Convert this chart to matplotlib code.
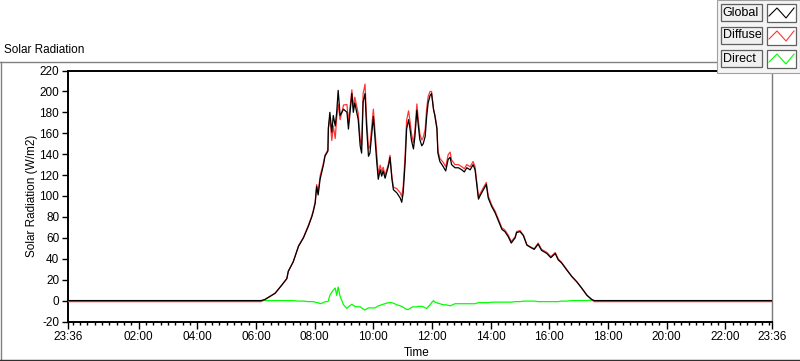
import matplotlib
matplotlib.use("Agg")
import matplotlib.pyplot as plt
import matplotlib.dates as mdates
from matplotlib.lines import Line2D
from matplotlib.patches import Rectangle
import pandas as pd

# ---------------- data ----------------
t_start = "2000-01-01 23:36"
t_end = "2000-01-02 23:36"
day_times = ["06:10", "06:18", "06:39", "06:53", "07:03", "07:06", "07:16", "07:27", "07:37", "07:47",
             "07:54", "07:57", "08:01", "08:04", "08:07", "08:11", "08:18", "08:21", "08:27", "08:28",
             "08:31", "08:35", "08:38", "08:42", "08:45", "08:48", "08:52", "08:59", "09:06", "09:09",
             "09:16", "09:19", "09:22", "09:29", "09:33", "09:36", "09:39", "09:43", "09:46", "09:50",
             "09:53", "10:00", "10:03", "10:07", "10:10", "10:14", "10:17", "10:20", "10:24", "10:27",
             "10:31", "10:34", "10:38", "10:41", "10:48", "10:55", "10:58", "11:01", "11:05", "11:08",
             "11:12", "11:15", "11:18", "11:22", "11:25", "11:29", "11:32", "11:35", "11:39", "11:42",
             "11:46", "11:49", "11:52", "11:56", "11:59", "12:03", "12:06", "12:10", "12:12", "12:16",
             "12:23", "12:28", "12:33", "12:37", "12:40", "12:47", "12:54", "13:01", "13:06", "13:11",
             "13:18", "13:24", "13:28", "13:31", "13:35", "13:38", "13:45", "13:51", "13:55", "14:02",
             "14:09", "14:16", "14:23", "14:29", "14:36", "14:42", "14:50", "14:53", "15:00", "15:07",
             "15:14", "15:21", "15:29", "15:37", "15:44", "15:55", "16:03", "16:12", "16:18", "16:25",
             "16:36", "16:46", "16:56", "17:06", "17:17", "17:27", "17:32"]

global_rad = [0, 0, 1, 7, 15, 21, 28, 37, 52, 60, 71,
              80, 85, 93, 109, 101, 116, 130, 138, 143, 165,
              180, 161, 177, 167, 180, 201, 177, 183, 180, 164,
              198, 180, 189, 173, 148, 141, 190, 198, 167, 138,
              141, 176, 157, 132, 116, 125, 119, 124, 117, 122,
              129, 137, 116, 106, 103, 98, 94, 103, 132, 164,
              173, 164, 153, 145, 157, 182, 167, 154, 148, 150,
              157, 176, 189, 196, 198, 183, 176, 164, 141, 133,
              128, 124, 135, 137, 130, 127, 127, 125, 123, 127,
              125, 130, 125, 113, 97, 100, 106, 111, 98, 90,
              84, 76, 68, 66, 61, 55, 60, 65, 66, 62,
              53, 51, 49, 54, 48, 45, 41, 45, 39, 36,
              29, 23, 18, 12, 5, 1, 0, 0]

diffuse_rad = [-1, -1, 1, 7, 15, 21, 28, 37, 52.5, 60.5, 72,
               81, 86, 94.5, 111, 103, 119, 132, 139, 144, 165,
               175, 153, 167, 155, 175, 188, 173, 187, 187.5, 170,
               201.5, 184.5, 194.5, 179, 154, 148, 198, 207, 175, 145,
               148, 183, 164, 138, 121, 129.5, 123, 127.5, 120, 124.5,
               131, 139, 118, 108.5, 107, 103, 99.5, 109.5, 139.5, 172.5,
               181.5, 171.5, 159.5, 151, 163, 188, 172.5, 159.5, 153.5, 156,
               164, 183.5, 195, 200, 200, 183, 177.5, 166, 143.5, 136,
               132, 128, 139.5, 142, 134.5, 130, 130, 128, 126, 130,
               128, 133, 128, 115.5, 99, 102, 108, 113, 100, 91.5,
               85.5, 77.5, 69.5, 67.5, 62.5, 56.5, 61, 66, 67, 62.5,
               53.5, 51.5, 49.5, 55, 49, 46, 42, 46, 40, 36.5,
               29.5, 23, 18, 12, 5, 0.5, -1, -1]

direct_rad = [0, 0, 0, 0, 0, 0, 0, 0, -0.5, -0.5, -1,
              -1, -1, -1.5, -2, -2, -3, -2, -1, -1, 0,
              5, 8, 10, 12, 5, 13, 4, -4, -7.5, -6,
              -3.5, -4.5, -5.5, -6, -6, -7, -8, -9, -8, -7,
              -7, -7, -7, -6, -5, -4.5, -4, -3.5, -3, -2.5,
              -2, -2, -2, -2.5, -4, -5, -5.5, -6.5, -7.5, -8.5,
              -8.5, -7.5, -6.5, -6, -6, -6, -5.5, -5.5, -5.5, -6,
              -7, -7.5, -6, -4, -2, 0, -1.5, -2, -2.5, -3,
              -4, -4, -4.5, -5, -4.5, -3, -3, -3, -3, -3,
              -3, -3, -3, -2.5, -2, -2, -2, -2, -2, -1.5,
              -1.5, -1.5, -1.5, -1.5, -1.5, -1.5, -1, -1, -1, -0.5,
              -0.5, -0.5, -0.5, -1, -1, -1, -1, -1, -1, -0.5,
              -0.5, 0, 0, 0, 0, 0.5, 0, 0]

y_ticks = [-20, 0, 20, 40, 60, 80, 100, 120, 140, 160, 180, 200, 220]
x_tick_labels = ["23:36", "02:00", "04:00", "06:00", "08:00", "10:00", "12:00",
                 "14:00", "16:00", "18:00", "20:00", "22:00", "23:36"]
series_names = ["Global", "Diffuse", "Direct"]
series_colors = ["#000000", "#ff3535", "#00ff00"]

# ---------------- build ----------------
times = pd.to_datetime([t_start] + ["2000-01-02 " + t for t in day_times] + [t_end])
tick_times = pd.to_datetime([t_start] + ["2000-01-02 " + t for t in x_tick_labels[1:-1]] + [t_end])

plt.rcParams['font.family'] = ['Liberation Sans', 'DejaVu Sans']

W, H = 800, 361
fig = plt.figure(figsize=(8.0, 3.61), dpi=100)
fig.patch.set_facecolor("white")

left_px, right_px, top_px, bot_px = 68.3, 772.3, 70.5, 321.5
ax = fig.add_axes([left_px / W, 1 - bot_px / H, (right_px - left_px) / W, (bot_px - top_px) / H])

ax.plot(times, direct_rad, color=series_colors[2], lw=0.9, zorder=2)
ax.plot(times, diffuse_rad, color=series_colors[1], lw=0.9, zorder=3)
ax.plot(times, global_rad, color=series_colors[0], lw=0.9, zorder=4)

ax.set_xlim(times[0], times[-1])
ax.set_ylim(-20, 220)
ax.set_yticks(y_ticks)
ax.set_yticklabels([str(v) for v in y_ticks])
ax.set_xticks(tick_times)
ax.set_xticklabels(x_tick_labels)
ax.xaxis.set_minor_locator(mdates.MinuteLocator(byminute=[0, 15, 30, 45]))

ax.tick_params(axis='both', which='major', direction='out', length=5, width=1.0,
               labelsize=8.5, pad=2, colors='black')
ax.tick_params(axis='x', which='minor', direction='out', length=2.5, width=1.0)
ax.tick_params(axis='y', which='major', length=4.5)

for s in ['left', 'bottom', 'top']:
    ax.spines[s].set_linewidth(1.4)
    ax.spines[s].set_color('black')
ax.spines['right'].set_linewidth(1.0)
ax.spines['right'].set_color('#7a7a7a')

# labels
fig.text(4 / W, 1 - 50 / H, "Solar Radiation", ha='left', va='center', fontsize=8.5)
fig.text(32 / W, 1 - 196 / H, "Solar Radiation (W/m2)", ha='center', va='center',
         rotation=90, fontsize=8.5)
fig.text(417 / W, 1 - 353 / H, "Time", ha='center', va='center', fontsize=8.5)

# panel frame
frame_c = '#808080'
fig.add_artist(Line2D([0, 717 / W], [1 - 62 / H, 1 - 62 / H], color=frame_c, lw=1.0))
fig.add_artist(Line2D([1 / W, 1 / W], [1 - 62 / H, 1 - 360 / H], color=frame_c, lw=1.0))
fig.add_artist(Line2D([0, 1], [1 - 359.5 / H, 1 - 359.5 / H], color='#303030', lw=1.0))

# legend panel
fig.add_artist(Rectangle((717 / W, 1 - 72.5 / H), 83 / W, 72.5 / H, transform=fig.transFigure,
                         facecolor='#f4f4f4', edgecolor='#a0a0a0', lw=0.8, zorder=10))
row_tops = [4, 27, 50]
for name, col, rt in zip(series_names, series_colors, row_tops):
    fig.add_artist(Rectangle((721 / W, 1 - (rt + 17) / H), 41 / W, 17 / H, transform=fig.transFigure,
                             facecolor='#f0f0f0', edgecolor='#606060', lw=0.9, zorder=11))
    fig.text(722.5 / W, 1 - (rt + 8.5) / H, name, ha='left', va='center', fontsize=9, zorder=12)
    fig.add_artist(Rectangle((767 / W, 1 - (rt + 18) / H), 29 / W, 18 / H, transform=fig.transFigure,
                             facecolor='white', edgecolor='#606060', lw=0.9, zorder=11))
    zx = [769, 777, 786, 794]
    zy = [rt + 12, rt + 4, rt + 14, rt + 4]
    fig.add_artist(Line2D([x / W for x in zx], [1 - y / H for y in zy], color=col, lw=0.8, zorder=12))

fig.savefig("out.png", dpi=100, facecolor=fig.get_facecolor())
